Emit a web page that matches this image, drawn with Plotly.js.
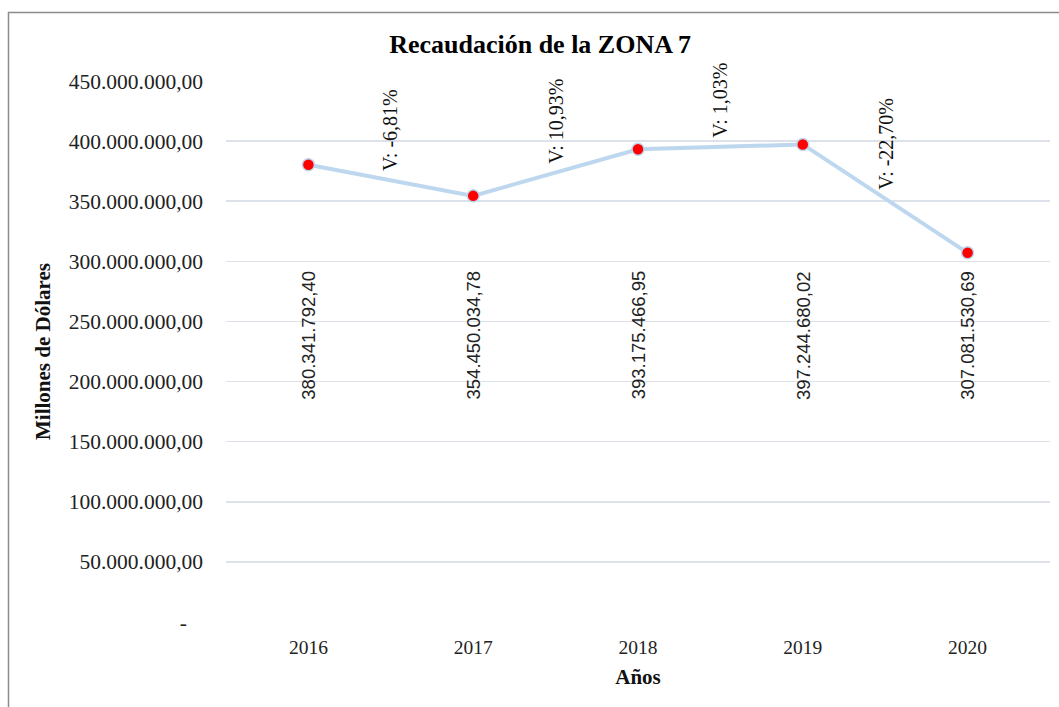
<!DOCTYPE html>
<html>
<head>
<meta charset="utf-8">
<script src="https://cdn.plot.ly/plotly-3.0.1.min.js"></script>
<style>
  html, body { margin: 0; padding: 0; background: #ffffff; }
  #chart { width: 1059px; height: 707px; }
</style>
</head>
<body>
<div id="chart"></div>
<script>
// ---- data ----
var years = ['2016', '2017', '2018', '2019', '2020'];
var recaudacion = [380341792.40, 354450034.78, 393175466.95, 397244680.02, 307081530.69];
var variaciones = ['V: -6,81%', 'V: 10,93%', 'V: 1,03%', 'V: -22,70%'];
var yTicks = [0, 50000000, 100000000, 150000000, 200000000, 250000000, 300000000, 350000000, 400000000, 450000000];

// ---- helpers ----
function fmt(v) {
  if (v === 0) return '-\u00a0\u00a0\u00a0';
  var parts = v.toFixed(2).split('.');
  var intPart = parts[0].replace(/\B(?=(\d{3})+(?!\d))/g, '.');
  return intPart + ',' + parts[1];
}

var serif = '"Liberation Serif", "Times New Roman", Times, serif';
var sans = '"Liberation Sans", Arial, sans-serif';

var trace = {
  x: years,
  y: recaudacion,
  type: 'scatter',
  mode: 'lines+markers',
  line: { color: '#BDD7EE', width: 4 },
  marker: { color: '#FF0000', size: 12, line: { color: '#BDD7EE', width: 1.5 } },
  hoverinfo: 'skip',
  showlegend: false
};

var annotations = [];
// value labels (rotated)
for (var i = 0; i < years.length; i++) {
  annotations.push({
    x: i, xref: 'x',
    y: 0.53, yref: 'paper',
    text: fmt(recaudacion[i]),
    textangle: -90,
    showarrow: false,
    xanchor: 'center', yanchor: 'middle',
    font: { family: sans, size: 18.5, color: '#222222' }
  });
}
// variation labels between points
for (var j = 0; j < variaciones.length; j++) {
  annotations.push({
    x: j + 0.5, xref: 'x',
    y: (recaudacion[j] + recaudacion[j + 1]) / 2, yref: 'y',
    text: variaciones[j],
    textangle: -90,
    showarrow: false,
    xanchor: 'center', yanchor: 'bottom',
    yshift: 7,
    font: { family: serif, size: 20, color: '#111111' }
  });
}

var layout = {
  width: 1059,
  height: 707,
  margin: { l: 226, r: 9, t: 81, b: 85 },
  paper_bgcolor: '#ffffff',
  plot_bgcolor: '#ffffff',
  title: {
    text: '<b>Recaudación de la ZONA 7</b>',
    font: { family: serif, size: 26, color: '#000000' },
    x: 0.51, xref: 'container', xanchor: 'center',
    y: 1 - 44 / 707, yref: 'container', yanchor: 'middle'
  },
  xaxis: {
    type: 'category',
    range: [-0.5, 4.5],
    showgrid: false,
    zeroline: false,
    showline: false,
    ticks: '',
    ticklabelstandoff: 11,
    tickfont: { family: serif, size: 19.5, color: '#222222' },
    title: {
      text: '<b>Años</b>',
      font: { family: serif, size: 21, color: '#111111' },
      standoff: 12
    },
    fixedrange: true
  },
  yaxis: {
    range: [0, 450000000],
    tickvals: yTicks,
    ticktext: yTicks.map(fmt),
    showgrid: true,
    gridcolor: '#DDE2EA',
    gridwidth: 1.5,
    zeroline: false,
    showline: false,
    ticks: '',
    ticklabelstandoff: 22,
    tickfont: { family: serif, size: 21.5, color: '#222222' },
    title: {
      text: '<b>Millones de Dólares</b>',
      font: { family: serif, size: 21, color: '#111111' },
      standoff: 12
    },
    fixedrange: true
  },
  annotations: annotations,
  shapes: [{
    type: 'rect',
    xref: 'paper', yref: 'paper',
    x0: (8.5 - 226) / 824, x1: 1.5,
    y0: -0.5, y1: (622 - 12.5) / 541,
    line: { color: '#8C8C8C', width: 1.5 },
    fillcolor: 'rgba(0,0,0,0)',
    layer: 'below'
  }]
};

Plotly.newPlot('chart', [trace], layout, { displayModeBar: false, staticPlot: true });
</script>
</body>
</html>
